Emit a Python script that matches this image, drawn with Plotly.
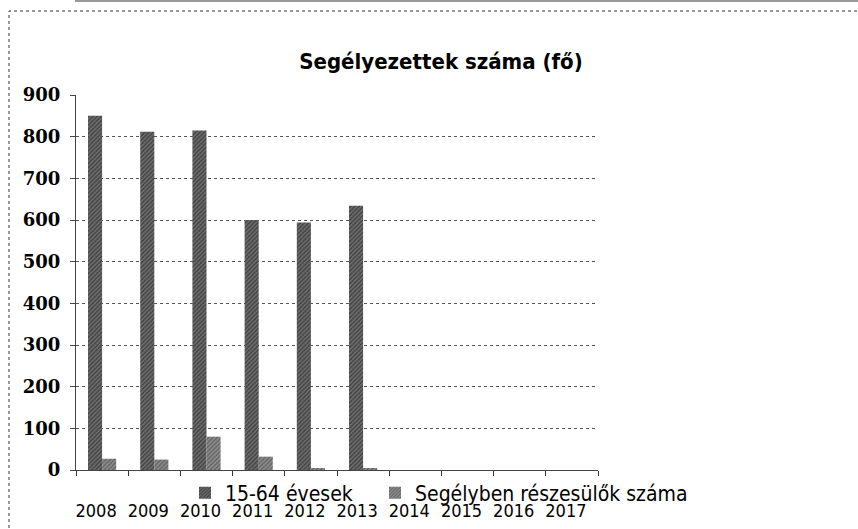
import plotly.graph_objects as go

# ---- data ----
years = ["2008", "2009", "2010", "2011", "2012", "2013", "2014", "2015", "2016", "2017"]
aged_15_64 = [850, 812, 815, 600, 594, 634, None, None, None, None]
recipients = [27, 25, 80, 32, 3, 3, None, None, None, None]
series_names = ["15-64 évesek", "Segélyben részesülők száma"]
title_text = "Segélyezettek száma (fő)"
y_ticks = [0, 100, 200, 300, 400, 500, 600, 700, 800, 900]

W, H = 858, 529
L, R, T, B = 76, 260, 95, 59
PW, PH = W - L - R, H - T - B


def px_x(p):
    return (p - L) / PW


def px_y(p):
    return (H - B - p) / PH


COND = "DejaVu Sans Condensed, DejaVu Sans, sans-serif"

fig = go.Figure()
fig.add_trace(go.Bar(
    x=years, y=aged_15_64, name=series_names[0], legend="legend",
    marker=dict(color="#3a3a3a", line=dict(width=0),
                pattern=dict(shape="/", fgcolor="#111111", bgcolor="#6e6e6e", size=3, solidity=0.45)),
))
fig.add_trace(go.Bar(
    x=years, y=recipients, name=series_names[1], legend="legend2",
    marker=dict(color="#5e5e5e", line=dict(width=0),
                pattern=dict(shape="/", fgcolor="#2a2a2a", bgcolor="#8e8e8e", size=3, solidity=0.4)),
))

legend_common = dict(orientation="h", xanchor="left", yanchor="middle",
                     font=dict(family=COND, size=21, color="#000"),
                     bgcolor="rgba(0,0,0,0)", itemclick=False, itemdoubleclick=False)

fig.update_layout(
    width=W, height=H,
    margin=dict(l=L, r=R, t=T, b=B, autoexpand=False),
    paper_bgcolor="white", plot_bgcolor="white",
    barmode="group", bargap=0.46, bargroupgap=0,
    title=dict(text="<b>" + title_text + "</b>", x=441 / W, xref="container", xanchor="center",
               y=1 - 61 / H, yref="container", yanchor="middle",
               font=dict(family=COND, size=22, color="#000")),
    showlegend=True,
    legend=dict(x=px_x(185), y=px_y(493), **legend_common),
    legend2=dict(x=px_x(375), y=px_y(493), **legend_common),
    xaxis=dict(type="category", range=[-0.5, 9.5], tickson="boundaries", tickangle=0,
               ticks="outside", ticklen=5, tickcolor="#333", showline=True, linecolor="#444", linewidth=1,
               showgrid=False, ticklabelstandoff=24, ticklabelshift=-6,
               tickfont=dict(family=COND, size=18, color="#000")),
    yaxis=dict(range=[0, 900], tickvals=y_ticks, ticks="outside", ticklen=5, tickcolor="#444",
               showline=True, linecolor="#444", linewidth=1,
               showgrid=True, gridcolor="#555", griddash="dot", gridwidth=1, zeroline=False,
               ticklabelstandoff=6,
               tickfont=dict(family="DejaVu Serif, serif", size=18, color="#000", weight="bold")),
    shapes=[
        dict(type="rect", xref="paper", yref="paper",
             x0=px_x(9), x1=px_x(W + 20), y0=px_y(H + 20), y1=px_y(11),
             line=dict(color="#333", width=1, dash="dot"), layer="below"),
        dict(type="line", xref="paper", yref="paper",
             x0=px_x(75), x1=px_x(W), y0=px_y(1), y1=px_y(1),
             line=dict(color="#999", width=2)),
    ],
)

fig.write_html("out.html", config={"displayModeBar": False},
               post_script="document.body.style.margin='0';")
